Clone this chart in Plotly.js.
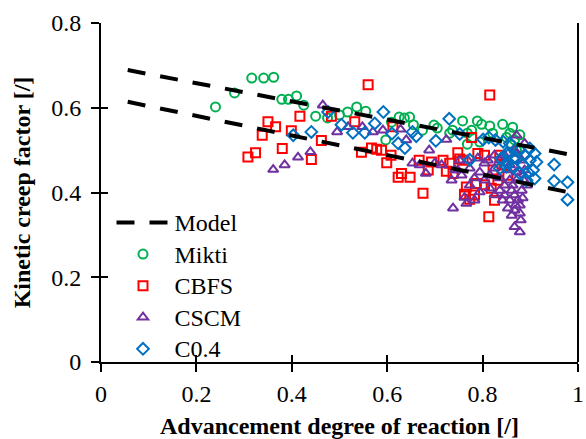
<!DOCTYPE html>
<html><head><meta charset="utf-8">
<script src="https://cdn.plot.ly/plotly-3.0.1.min.js"></script>
<style>html,body{margin:0;padding:0;background:#fff}#chart{width:586px;height:439px}</style>
</head><body><div id="chart"></div>
<script>
// Model lines
const modelX = [0.056, 1.0];
const modelUpper = [0.689, 0.486];
const modelLower = [0.614, 0.396];

// Mikti
const miktiX = [0.240,0.280,0.316,0.341,0.362,0.379,0.393,0.410,0.425,0.450,0.475,0.500,0.517,0.536,0.555,0.597,0.609,0.625,0.636,0.647,0.674,0.698,0.731,0.758,0.777,0.768,0.789,0.798,0.815,0.842,0.863,0.737,0.768,0.821,0.857,0.794,0.867,0.871,0.861,0.878,0.705,0.850,0.655];
const miktiY = [0.602,0.635,0.670,0.670,0.672,0.620,0.620,0.628,0.606,0.580,0.576,0.583,0.590,0.602,0.592,0.524,0.566,0.578,0.576,0.578,0.547,0.559,0.540,0.569,0.547,0.514,0.569,0.561,0.557,0.561,0.554,0.547,0.540,0.540,0.540,0.519,0.524,0.500,0.512,0.536,0.552,0.530,0.560];

// CBFS
const cbfsX = [0.308,0.324,0.338,0.350,0.366,0.380,0.399,0.417,0.441,0.462,0.483,0.532,0.560,0.546,0.567,0.578,0.588,0.599,0.608,0.612,0.623,0.630,0.648,0.667,0.675,0.686,0.717,0.724,0.748,0.752,0.762,0.773,0.783,0.787,0.777,0.790,0.804,0.815,0.693,0.731,0.738,0.759,0.766,0.825,0.813,0.804,0.818,0.822,0.846,0.853,0.836,0.832];
const cbfsY = [0.484,0.494,0.535,0.567,0.555,0.504,0.546,0.580,0.478,0.523,0.580,0.567,0.654,0.495,0.505,0.502,0.500,0.470,0.488,0.555,0.436,0.445,0.436,0.476,0.398,0.453,0.476,0.450,0.494,0.479,0.396,0.384,0.394,0.421,0.530,0.492,0.488,0.630,0.472,0.469,0.445,0.476,0.413,0.382,0.343,0.418,0.410,0.453,0.465,0.441,0.488,0.429];

// CSCM
const cscmX = [0.361,0.385,0.413,0.439,0.465,0.495,0.518,0.548,0.570,0.591,0.628,0.640,0.688,0.724,0.653,0.668,0.681,0.700,0.714,0.735,0.748,0.738,0.762,0.766,0.871,0.888,0.871,0.867,0.878,
  0.742,0.756,0.773,0.783,0.794,0.804,0.815,0.825,0.836,0.846,0.857,0.861,0.867,0.874,0.878,0.857,0.846,0.867,0.878,0.863,0.882,0.853,0.874,0.836,0.825,0.815,0.794,0.783,0.773,0.804,0.836,0.857,0.871,0.886,0.884,0.869,0.853,0.842,0.752,0.769,0.790,0.811,0.825,0.846,0.867,0.882,0.888,0.893,0.861,0.880];
const cscmY = [0.454,0.465,0.483,0.496,0.606,0.543,0.555,0.555,0.543,0.547,0.549,0.524,0.500,0.525,0.469,0.465,0.445,0.470,0.465,0.429,0.453,0.363,0.388,0.374,0.535,0.516,0.492,0.319,0.307,
  0.453,0.441,0.457,0.434,0.448,0.429,0.441,0.457,0.434,0.417,0.429,0.405,0.394,0.382,0.370,0.382,0.394,0.358,0.351,0.417,0.405,0.453,0.434,0.405,0.394,0.410,0.401,0.382,0.417,0.469,0.476,0.465,0.448,0.429,0.387,0.370,0.363,0.382,0.476,0.476,0.481,0.476,0.488,0.488,0.500,0.476,0.453,0.417,0.346,0.335];

// C0.4
const c04X = [0.403,0.441,0.476,0.504,0.528,0.553,0.574,0.592,0.610,0.623,0.637,0.653,0.661,0.702,0.730,0.752,0.773,0.801,0.813,0.827,0.843,0.857,0.850,0.836,0.850,0.864,0.899,0.909,0.913,0.906,0.909,0.892,0.878,0.864,0.853,0.871,0.885,0.899,0.878,0.857,0.839,0.888,0.895,0.950,0.950,0.978,0.978];
const c04Y = [0.535,0.543,0.590,0.560,0.541,0.541,0.563,0.590,0.539,0.516,0.505,0.543,0.533,0.522,0.574,0.538,0.477,0.525,0.530,0.524,0.520,0.516,0.492,0.457,0.461,0.480,0.504,0.492,0.472,0.453,0.433,0.429,0.445,0.461,0.472,0.480,0.465,0.476,0.500,0.492,0.480,0.488,0.448,0.466,0.427,0.424,0.383];

const xTicks = [0, 0.2, 0.4, 0.6, 0.8, 1];
const xTickText = ['0', '0.2', '0.4', '0.6', '0.8', '1'];
const yTicks = [0, 0.2, 0.4, 0.6, 0.8];
const yTickText = ['0', '0.2', '0.4', '0.6', '0.8'];

const FONT = "'Liberation Serif', 'Times New Roman', serif";
const lg = s => '<span style="font-size:24px">' + s + '</span>';
const mk = (sym, col) => ({symbol: sym, size: 9, color: col, line: {color: col, width: 2}});

const traces = [
  {x: miktiX, y: miktiY, name: lg('Mikti'), mode: 'markers', type: 'scatter', legendrank: 2, marker: mk('circle-open', '#00B050')},
  {x: cbfsX, y: cbfsY, name: lg('CBFS'), mode: 'markers', type: 'scatter', legendrank: 3, marker: mk('square-open', '#FF0000')},
  {x: cscmX, y: cscmY, name: lg('CSCM'), mode: 'markers', type: 'scatter', legendrank: 4, marker: mk('triangle-up-open', '#7030A0')},
  {x: c04X, y: c04Y, name: lg('C0.4'), mode: 'markers', type: 'scatter', legendrank: 5, marker: mk('diamond-open', '#0070C0')},
  {x: modelX, y: modelUpper, name: lg('Model'), mode: 'lines', type: 'scatter', legendrank: 1, legendgroup: 'model',
   line: {color: '#000', width: 4, dash: '18px,15px'}},
  {x: modelX, y: modelLower, name: 'Model', mode: 'lines', type: 'scatter', showlegend: false, legendgroup: 'model',
   line: {color: '#000', width: 4, dash: '18px,15px'}},
  {x: [], y: [], xaxis: 'x2', yaxis: 'y2', showlegend: false, hoverinfo: 'skip', type: 'scatter', mode: 'markers'}
];

const layout = {
  width: 586, height: 439,
  margin: {l: 101, r: 8, t: 23, b: 77},
  paper_bgcolor: '#fff', plot_bgcolor: '#fff',
  font: {family: FONT, size: 24, color: '#000'},
  showlegend: true,
  legend: {x: 0.022, y: 0.473, xanchor: 'left', yanchor: 'top', bgcolor: 'rgba(0,0,0,0)',
           font: {family: FONT, size: 22, color: '#000'}, itemwidth: 53, tracegroupgap: 0},
  xaxis: {range: [0, 1], tickvals: xTicks, ticktext: xTickText, showgrid: false, zeroline: false,
          showline: true, linecolor: '#000', linewidth: 2, ticks: 'outside', ticklen: 8, tickwidth: 2, tickcolor: '#000',
          ticklabelstandoff: 1,
          title: {text: 'Advancement degree of reaction [/]', font: {family: FONT, size: 24, weight: 'bold'}, standoff: 20}},
  yaxis: {range: [0, 0.8], tickvals: yTicks, ticktext: yTickText, showgrid: false, zeroline: false,
          showline: true, linecolor: '#000', linewidth: 2, ticks: 'outside', ticklen: 8, tickwidth: 2, tickcolor: '#000',
          ticklabelstandoff: 5,
          title: {text: 'Kinetic creep factor [/]', font: {family: FONT, size: 24, weight: 'bold'}, standoff: 14}},
  xaxis2: {overlaying: 'x', anchor: 'y2', range: [0, 1], tickvals: xTicks, showticklabels: false, showgrid: false, zeroline: false,
           showline: false, ticks: 'inside', ticklen: 7, tickwidth: 2, tickcolor: '#000'},
  yaxis2: {overlaying: 'y', anchor: 'x2', range: [0, 0.8], tickvals: yTicks, showticklabels: false, showgrid: false, zeroline: false,
           showline: false, ticks: 'inside', ticklen: 7, tickwidth: 2, tickcolor: '#000'},
  shapes: [{type: 'line', xref: 'paper', yref: 'paper', x0: 1, x1: 1, y0: 0, y1: 1, line: {color: '#000', width: 2}}]
};

Plotly.newPlot('chart', traces, layout, {staticPlot: true, displayModeBar: false});
</script></body></html>
